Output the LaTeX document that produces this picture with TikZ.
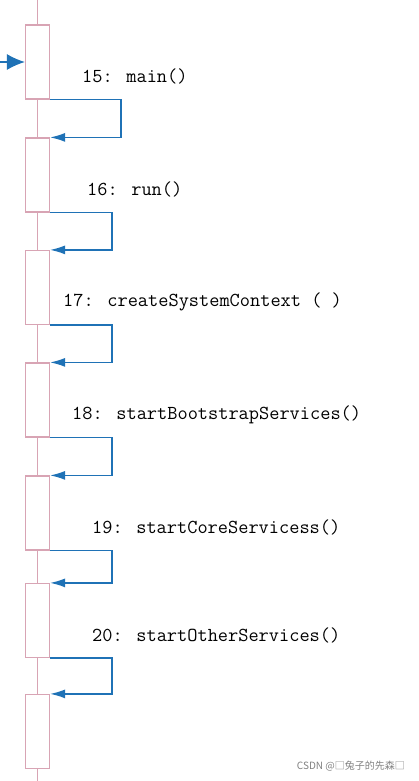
\documentclass[tikz,border=0pt]{standalone}
\usepackage{fontspec}
\usetikzlibrary{positioning,arrows.meta}
\newfontfamily\cjkfont{Noto Sans CJK SC}
\definecolor{lifepink}{HTML}{D8A4B4}
\definecolor{callblue}{HTML}{1F72B6}
\tikzset{lifeline/.style={draw=lifepink,line width=1.2pt}}
\tikzset{actbox/.style={draw=lifepink,line width=1.2pt,fill=white,minimum width=24pt,minimum height=74pt,inner sep=0pt}}
\tikzset{call/.style={draw=callblue,line width=1.4pt,-{Latex[length=15pt,width=9pt]}}}
\tikzset{entry/.style={draw=callblue,line width=1.4pt,-{Latex[length=18pt,width=16pt]}}}
\tikzset{msg/.style={anchor=west,inner sep=0pt,font=\ttfamily\fontsize{19.8}{22}\selectfont}}

\begin{document}
\begin{tikzpicture}[x=1pt,y=-1pt]
  \useasboundingbox (0,0) rectangle (419,781);
  \coordinate (top) at (37.5,0);
  \coordinate (bot) at (37.5,781);
  \draw[lifeline] (top) -- (bot);
        \foreach \n/\y in {1/62,2/175,3/287.5,4/400,5/513,6/620.5,7/731.5}
          \node[actbox] (b\n) at (37.5,\y) {};
  \coordinate (in) at (0,62);
  \draw[entry] (in) -- (b1.west);
        \foreach \a/\b/\w in {1/2/71,2/3/62,3/4/62,4/5/62,5/6/62,6/7/62}
          \draw[call] (b\a.south east) -- ++(\w,0) |- (b\b.north east);
        \foreach \k/\x/\y/\t in {15/82/76/main(),16/87/189/run(),17/63/302/createSystemContext ( ),
            18/72/415/startBootstrapServices(),19/92/527/startCoreServicess(),20/92/635/startOtherServices()}
          \node[msg] (m\k) at (\x,\y) {\k: \t};
  \node[anchor=east,inner sep=0pt,text=gray,font=\cjkfont\fontsize{10}{12}\selectfont] (mark) at (405,766) {CSDN @□兔子的先森□};
\end{tikzpicture}
\end{document}
